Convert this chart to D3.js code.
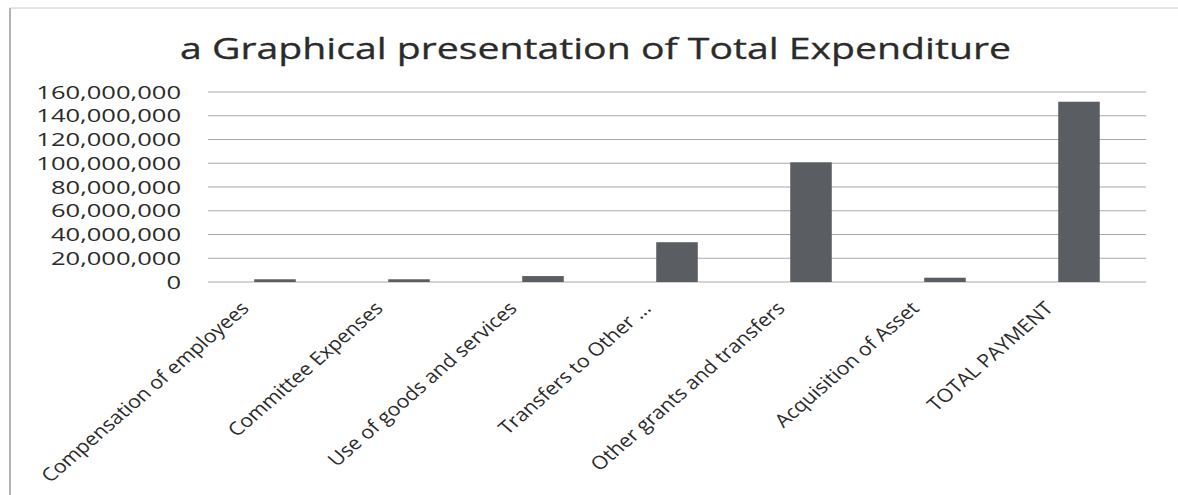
<!DOCTYPE html>
<html>
  <head>
    <meta charset="UTF-8" />
    <title>Total Expenditure</title>
    <script src="https://d3js.org/d3.v7.min.js"></script>
    <style>
      body { margin: 0; background: #fff; }
      text { font-family: 'Open Sans', sans-serif; fill: #2b2b2b; }
      .grid line { stroke: #a8a8a8; stroke-width: 1.2px; }
      .bar { fill: #5a5d61; }
    </style>
  </head>
  <body>
    <svg id="chart" width="1178" height="495"></svg>

    <script>
      // chart data
      var categories = [
        'Compensation of employees',
        'Committee Expenses',
        'Use of goods and services',
        'Transfers to Other ...',
        'Other grants and transfers',
        'Acquisition of Asset',
        'TOTAL PAYMENT'
      ];
      var amounts = [2300000, 2300000, 5000000, 33500000, 100800000, 3600000, 151800000];
      var yTicks = [0, 20000000, 40000000, 60000000, 80000000, 100000000, 120000000, 140000000, 160000000];
      var title = 'a Graphical presentation of Total Expenditure';

      var svg = d3.select('#chart');
      var stretch = 1.42; // the scanned picture is wider than tall

      // outer frame (only left / top edges visible)
      svg.append('line').attr('x1', 10).attr('x2', 10).attr('y1', 8).attr('y2', 495)
        .attr('stroke', '#9a9a9a').attr('stroke-width', 1.5);
      svg.append('line').attr('x1', 10).attr('x2', 1178).attr('y1', 8).attr('y2', 8)
        .attr('stroke', '#c8c8c8').attr('stroke-width', 1);

      var x = d3.scaleBand().domain(categories).range([208, 1146]).paddingInner(0.69).paddingOuter(0.345);
      var y = d3.scaleLinear().domain([0, 160000000]).range([282, 92]);

      // gridlines
      svg.append('g').attr('class', 'grid')
        .selectAll('line').data(yTicks).enter().append('line')
        .attr('x1', 208).attr('x2', 1146)
        .attr('y1', function (d) { return y(d); })
        .attr('y2', function (d) { return y(d); });

      // y tick labels
      var fmt = d3.format(',');
      svg.append('g').selectAll('text').data(yTicks).enter().append('text')
        .attr('transform', function (d) { return 'translate(181,' + (y(d) + 6.5) + ') scale(' + stretch + ',1)'; })
        .attr('text-anchor', 'end')
        .style('font-size', '18px')
        .text(function (d) { return fmt(d); });

      // bars
      svg.append('g').selectAll('rect').data(amounts).enter().append('rect')
        .attr('class', 'bar')
        .attr('x', function (d, i) { return x(categories[i]); })
        .attr('width', x.bandwidth())
        .attr('y', function (d) { return y(d); })
        .attr('height', function (d) { return y(0) - y(d); });

      // category labels, rotated
      svg.append('g').selectAll('text').data(categories).enter().append('text')
        .attr('transform', function (d) {
          var cx = x(d) + x.bandwidth() / 2;
          return 'translate(' + (cx - 30) + ',305) scale(1.15,1) rotate(-45)';
        })
        .attr('text-anchor', 'end')
        .attr('dy', '0.35em')
        .style('font-size', '18.5px')
        .text(function (d) { return d; });

      // title
      svg.append('text')
        .attr('x', 180).attr('y', 59)
        .attr('textLength', 831).attr('lengthAdjust', 'spacingAndGlyphs')
        .style('font-size', '29px')
        .style('stroke', '#2b2b2b').style('stroke-width', '0.3px')
        .text(title);
    </script>
  </body>
</html>
